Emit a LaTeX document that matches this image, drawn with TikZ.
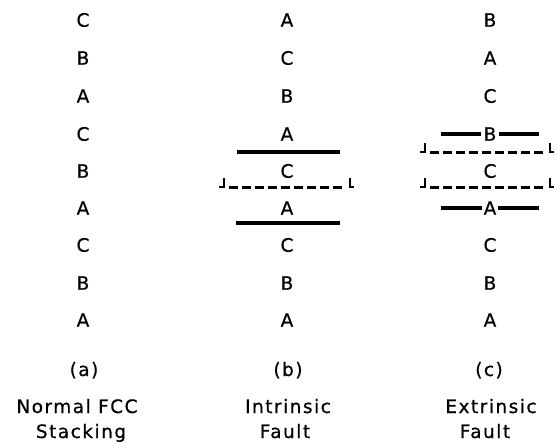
\documentclass[tikz,border=0pt]{standalone}
\usepackage{fontspec}
\setmainfont{DejaVu Sans}[LetterSpace=8, FakeBold=0.6]
\begin{document}
\begin{tikzpicture}[x=1pt,y=-1pt,
  lay/.style={inner sep=1pt, font=\fontsize{18.5}{22}\selectfont},
  captext/.style={inner sep=0pt, anchor=base, font=\fontsize{18.5}{22}\selectfont},
  solidline/.style={line width=3.4pt},
  dashline/.style={line width=3pt, dash pattern=on 9pt off 4pt},
  hookline/.style={line width=2.4pt}]
\useasboundingbox (0,0) rectangle (555,442);
\fill[white] (0,0) rectangle (555,442);
% rows
\def\ra{20}\def\rb{58}\def\rc{96}\def\rd{134}\def\re{171}\def\rf{208}\def\rg{245}\def\rh{283}\def\ri{320}
\def\xa{83}\def\xb{287}\def\xc{490}
% column a
\node[lay] (a1) at (\xa,\ra) {C};
\node[lay] (a2) at (\xa,\rb) {B};
\node[lay] (a3) at (\xa,\rc) {A};
\node[lay] (a4) at (\xa,\rd) {C};
\node[lay] (a5) at (\xa,\re) {B};
\node[lay] (a6) at (\xa,\rf) {A};
\node[lay] (a7) at (\xa,\rg) {C};
\node[lay] (a8) at (\xa,\rh) {B};
\node[lay] (a9) at (\xa,\ri) {A};
% column b
\node[lay] (b1) at (\xb,\ra) {A};
\node[lay] (b2) at (\xb,\rb) {C};
\node[lay] (b3) at (\xb,\rc) {B};
\node[lay] (b4) at (\xb,\rd) {A};
\node[lay] (b5) at (\xb,\re) {C};
\node[lay] (b6) at (\xb,\rf) {A};
\node[lay] (b7) at (\xb,\rg) {C};
\node[lay] (b8) at (\xb,\rh) {B};
\node[lay] (b9) at (\xb,\ri) {A};
% column c
\node[lay] (c1) at (\xc,\ra) {B};
\node[lay] (c2) at (\xc,\rb) {A};
\node[lay] (c3) at (\xc,\rc) {C};
\node[lay] (c4) at (\xc,\rd) {B};
\node[lay] (c5) at (\xc,\re) {C};
\node[lay] (c6) at (\xc,\rf) {A};
\node[lay] (c7) at (\xc,\rg) {C};
\node[lay] (c8) at (\xc,\rh) {B};
\node[lay] (c9) at (\xc,\ri) {A};
% captions
\node[captext] (la) at (84,376) {(a)};
\node[captext] (lb) at (288,376) {(b)};
\node[captext] (lc) at (489,376) {(c)};
\node[captext] (ta1) at (77,413) {Normal FCC};
\node[captext] (ta2) at (81,438) {Stacking};
\node[captext] (tb1) at (288,413) {Intrinsic};
\node[captext] (tb2) at (285,438) {Fault};
\node[captext] (tc1) at (491,413) {Extrinsic};
\node[captext] (tc2) at (485,438) {Fault};
% intrinsic fault lines
\coordinate (bs1l) at (237,152); \coordinate (bs1r) at (340,152);
\coordinate (bs2l) at (236,223); \coordinate (bs2r) at (340,223);
\draw[solidline] (bs1l) -- (bs1r);
\draw[solidline] (bs2l) -- (bs2r);
\coordinate (bdl) at (224,187); \coordinate (bdr) at (350,187);
\draw[dashline] ([xshift=5pt]bdl) -- ([xshift=-5pt]bdr);
\draw[hookline] ([xshift=-5pt]bdl) -- (bdl) -- ([yshift=9pt]bdl);
\draw[hookline] ([xshift=4pt]bdr) -- (bdr) -- ([yshift=9pt]bdr);
% extrinsic fault lines
\coordinate (cbl) at (441,\rd); \coordinate (cbr) at (539,\rd);
\draw[solidline] (cbl) -- ([xshift=-1pt]c4.west);
\draw[solidline] ([xshift=1pt]c4.east) -- (cbr);
\coordinate (cal) at (441,\rf); \coordinate (car) at (539,\rf);
\draw[solidline] (cal) -- (c6.west);
\draw[solidline] (c6.east) -- (car);
\coordinate (cd1l) at (425,152); \coordinate (cd1r) at (550,152);
\draw[dashline] ([xshift=5pt]cd1l) -- ([xshift=-5pt]cd1r);
\draw[hookline] ([xshift=-5pt]cd1l) -- (cd1l) -- ([yshift=9pt]cd1l);
\draw[hookline] ([xshift=4pt]cd1r) -- (cd1r) -- ([yshift=9pt]cd1r);
\coordinate (cd2l) at (425,187); \coordinate (cd2r) at (550,187);
\draw[dashline] ([xshift=5pt]cd2l) -- ([xshift=-5pt]cd2r);
\draw[hookline] ([xshift=-5pt]cd2l) -- (cd2l) -- ([yshift=9pt]cd2l);
\draw[hookline] ([xshift=4pt]cd2r) -- (cd2r) -- ([yshift=9pt]cd2r);
\end{tikzpicture}
\end{document}
